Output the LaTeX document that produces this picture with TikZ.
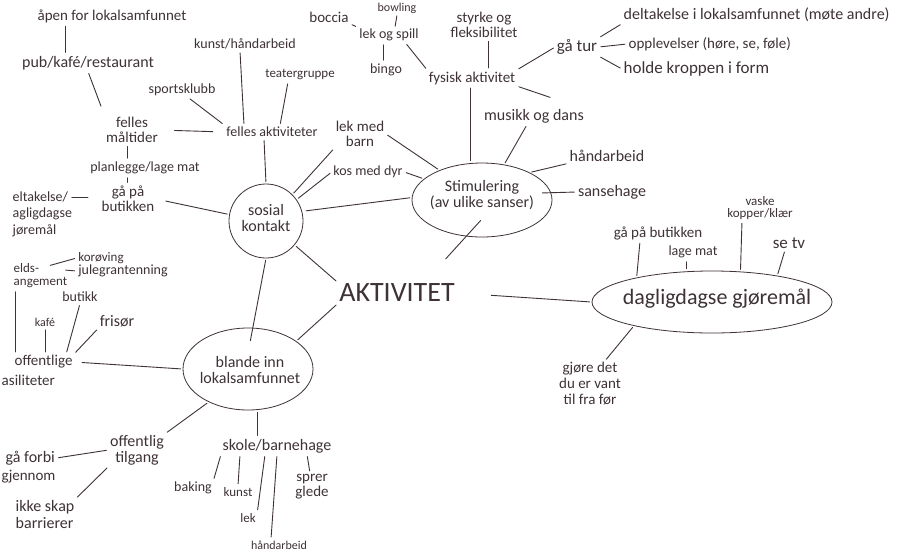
\documentclass[tikz,border=0pt]{standalone}
\usepackage{fontspec}
\setmainfont{Carlito}
\usetikzlibrary{shapes.geometric}
\definecolor{ink}{RGB}{62,50,55}
\begin{document}
\begin{tikzpicture}[x=1pt,y=-1pt,
 lbl/.style={text=ink, align=center, inner sep=1.5pt, font=\fontsize{15}{15}\selectfont},
 fs/.style={font=\fontsize{#1}{#1}\selectfont},
 ln/.style={draw=ink, line width=0.9pt, line cap=round, shorten <=2pt, shorten >=2pt},
 bub/.style={draw=ink, line width=0.8pt, inner sep=0pt}]
\path[use as bounding box] (0,0) rectangle (898,558);
\clip (0,0) rectangle (898,558);
\fill[white] (0,0) rectangle (898,558);

% bubbles
\node[bub,shape=circle,minimum size=74pt] (sosial) at (266,221) {};
\node[lbl,fs=16] (sosialT) at (266,218) {sosial\\kontakt};
\node[bub,shape=ellipse,minimum width=140pt,minimum height=74pt] (stim) at (482,200) {};
\node[lbl,fs=16] (stimT) at (482,195) {Stimulering\\(av ulike sanser)};
\node[bub,shape=ellipse,minimum width=130pt,minimum height=82pt] (blande) at (248,369) {};
\node[lbl,fs=16] (blandeT) at (250,370) {blande inn\\lokalsamfunnet};
\node[bub,shape=ellipse,minimum width=240pt,minimum height=62pt] (daglig) at (712,302) {};
\node[lbl,fs=22] (dagligT) at (717,299) {dagligdagse gjøremål};
\node[lbl,fs=28] (akt) at (397,293) {AKTIVITET};

% top left
\node[lbl,fs=15] (apen) at (112,16) {åpen for lokalsamfunnet};
\node[lbl,fs=16] (pub) at (88,63) {pub/kafé/restaurant};
\node[lbl,fs=15] (fm) at (132,130) {felles\\måltider};
\node[lbl,fs=14] (plan) at (145,168) {planlegge/lage mat};
\node[lbl,fs=15] (gaa) at (128,199) {gå på\\butikken};
\node[lbl,fs=14,anchor=west] (delt1) at (11,197) {eltakelse/};
\node[lbl,fs=14,anchor=west] (delt2) at (11,214) {agligdagse};
\node[lbl,fs=14,anchor=west] (delt3) at (11,231) {jøremål};
\node[lbl,fs=14] (sport) at (182,90) {sportsklubb};
\node[lbl,fs=14] (kunst) at (245,44) {kunst/håndarbeid};
\node[lbl,fs=13] (teater) at (300,75) {teatergruppe};
\node[lbl,fs=14] (fa) at (272,132) {felles aktiviteter};
\node[lbl,fs=15] (lekbarn) at (360,134) {lek med\\barn};
\node[lbl,fs=14] (kos) at (368,172) {kos med dyr};

% left
\node[lbl,fs=15,anchor=west] (offl) at (13,362) {offentlige};
\node[lbl,fs=15,anchor=west] (offl2) at (0,380) {asiliteter};
\node[lbl,fs=12] (kafe) at (45,322) {kafé};
\node[lbl,fs=14] (butikk) at (80,297) {butikk};
\node[lbl,fs=16] (frisor) at (117,321) {frisør};
\node[lbl,fs=13,anchor=west] (kv1) at (12,268) {elds-};
\node[lbl,fs=13,anchor=west] (kv2) at (12,283) {angement};
\node[lbl,fs=13] (kor) at (101,258) {korøving};
\node[lbl,fs=14] (jule) at (123,271) {julegrantenning};

% bottom
\node[lbl,fs=16] (offtil) at (137,450) {offentlig\\tilgang};
\node[lbl,fs=16,anchor=west] (forbi1) at (4,458) {gå forbi};
\node[lbl,fs=15,anchor=west] (forbi2) at (0,477) {gjennom};
\node[lbl,fs=16,anchor=west] (skap1) at (14,507) {ikke skap};
\node[lbl,fs=16,anchor=west] (skap2) at (14,523) {barrierer};
\node[lbl,fs=16] (skole) at (277,446) {skole/barnehage};
\node[lbl,fs=14] (baking) at (193,488) {baking};
\node[lbl,fs=13] (kunst2) at (238,492) {kunst};
\node[lbl,fs=13] (lek) at (248,518) {lek};
\node[lbl,fs=12] (hand2) at (279,545) {håndarbeid};
\node[lbl,fs=15] (sprer) at (312,487) {sprer\\glede};

% top middle / right
\node[lbl,fs=15] (boccia) at (329,17) {boccia};
\node[lbl,fs=12] (bowling) at (397,8) {bowling};
\node[lbl,fs=14] (lekspill) at (389,35) {lek og spill};
\node[lbl,fs=14] (bingo) at (386,70) {bingo};
\node[lbl,fs=15] (styrke) at (484,25) {styrke og\\fleksibilitet};
\node[lbl,fs=15] (fysisk) at (472,78) {fysisk aktivitet};
\node[lbl,fs=16] (musikk) at (534,116) {musikk og dans};
\node[lbl,fs=16] (hand1) at (607,156) {håndarbeid};
\node[lbl,fs=16] (sanse) at (612,192) {sansehage};
\node[lbl,fs=17] (gatur) at (577,47) {gå tur};
\node[lbl,fs=16,anchor=west] (delt) at (622,15) {deltakelse i lokalsamfunnet (møte andre)};
\node[lbl,fs=15,anchor=west] (opp) at (627,44) {opplevelser (høre, se, føle)};
\node[lbl,fs=17,anchor=west] (holde) at (622,69) {holde kroppen i form};

% daglig children
\node[lbl,fs=15] (gpb) at (658,233) {gå på butikken};
\node[lbl,fs=14] (lagemat) at (693,252) {lage mat};
\node[lbl,font=\fontsize{13}{12}\selectfont] (vaske) at (760,208) {vaske\\kopper/klær};
\node[lbl,fs=17] (setv) at (789,243) {se tv};
\node[lbl,font=\fontsize{15}{16}\selectfont] (gjore) at (590,384) {gjøre det\\du er vant\\til fra før};

\coordinate (fx) at (552,98);

% connectors
\draw[ln] ([xshift=-47pt]apen.south) -- ([xshift=-23pt]pub.north);
\draw[ln,shorten >=10pt] (pub.south) -- (fm.north west);
\draw[ln] ([xshift=-5pt]fm.south) -- ([xshift=-18pt]plan.north);
\draw[ln] ([xshift=-18pt]plan.south) -- ([xshift=-1pt]gaa.north);
\draw[ln,shorten <=15pt,shorten >=12pt] (fm.east) -- (fa.west);
\draw[ln,shorten >=3pt] (sport.-50) -- (fa.north west);
\draw[ln] ([xshift=-5pt]kunst.south) -- ([xshift=-28pt]fa.north);
\draw[ln] ([xshift=-12pt]teater.south) -- ([xshift=8pt]fa.north);
\draw[ln] ([xshift=-8pt]fa.south) -- (sosial.north);
\draw[ln,shorten <=10pt] (gaa.east) -- (sosial.170);
\draw[ln,shorten >=12pt] (delt1.east) -- (delt1.east -| gaa.west);
\draw[ln] (lekbarn.south west) -- (sosial.45);
\draw[ln] (lekbarn.east) -- (stim.145);
\draw[ln] (kos.west) -- (sosial.35);
\draw[ln] (kos.east) -- (stim.160);
\draw[ln,shorten <=4pt] (sosial.15) -- (stim.178);
\draw[ln] ([yshift=-19pt]stim.center) -- ([xshift=-12pt,yshift=22pt]akt.north east);
\draw[ln] (akt.north west) -- (sosial.-40);
\draw[ln] (akt.south west) -- (blande.30);
\draw[ln,shorten <=35pt] (akt.east) -- (daglig.west);
\draw[ln] (sosial.south) -- ([xshift=2pt,yshift=-15pt]blande.north);
\draw[ln,shorten <=8pt] (offl.east) -- (blande.west);
\draw[ln] (kafe.south) -- (kafe.south |- offl.north);
\draw[ln] (butikk.south) -- ([xshift=-8pt]offl.north east);
\draw[ln] (frisor.south west) -- (offl.north east);
\draw[ln,shorten <=10pt] (kv1.east) -- (kor.west);
\draw[ln,shorten <=25pt] (kv1.east) -- (jule.west);
\draw[ln] ([xshift=3pt]kv2.south west) -- ([xshift=3pt]kv2.south west |- offl.north);
\draw[ln] (blande.-140) -- (offtil.north east);
\draw[ln] (offtil.west) -- (forbi1.east);
\draw[ln] (offtil.south west) -- (skap1.north east);
\draw[ln] ([xshift=9pt]blande.south) -- ([xshift=-20pt]skole.north);
\draw[ln] (skole.south west) -- (baking.north east);
\draw[ln] ([xshift=-37pt]skole.south) -- (kunst2.north);
\draw[ln] ([xshift=-12pt]skole.south) -- (lek.north east);
\draw[ln] (skole.south) -- ([xshift=-8pt]hand2.north);
\draw[ln] ([xshift=30pt]skole.south) -- ([xshift=-2pt]sprer.north);

\draw[ln] (boccia.south east) -- (lekspill.north west);
\draw[ln,shorten <=1pt,shorten >=1pt] (bowling.south) -- ([xshift=6pt]lekspill.north);
\draw[ln] ([xshift=-6pt]lekspill.south) -- ([xshift=-3pt]bingo.north);
\draw[ln] ([xshift=-15pt]lekspill.south east) -- (fysisk.north west);
\draw[ln] ([xshift=4pt]styrke.south) -- ([xshift=16pt]fysisk.north);
\draw[ln] ([xshift=-2pt]fysisk.south) -- ([xshift=-12pt]stim.north);
\draw[ln] (fysisk.north east) -- (gatur.west);
\draw[ln] (fysisk.south east) -- (fx);
\draw[ln] ([xshift=-7pt]musikk.south) -- (stim.58);
\draw[ln] (hand1.south west) -- (stim.30);
\draw[ln] ([xshift=-12pt,yshift=7pt]stim.east) -- (sanse.west);
\draw[ln] (gatur.north east) -- (delt.south west);
\draw[ln] (gatur.east) -- (opp.west);
\draw[ln] (gatur.south east) -- (holde.west);

\draw[ln] ([xshift=-18pt]gpb.south) -- (daglig.162);
\draw[ln] ([xshift=-7pt]lagemat.south) -- ([xshift=-7pt]lagemat.south |- daglig.north);
\draw[ln] ([xshift=-18pt]vaske.south) -- (daglig.47);
\draw[ln] ([xshift=-4pt]setv.south) -- (daglig.22);
\draw[ln] (daglig.-163) -- ([xshift=15pt]gjore.north);
\end{tikzpicture}
\end{document}
